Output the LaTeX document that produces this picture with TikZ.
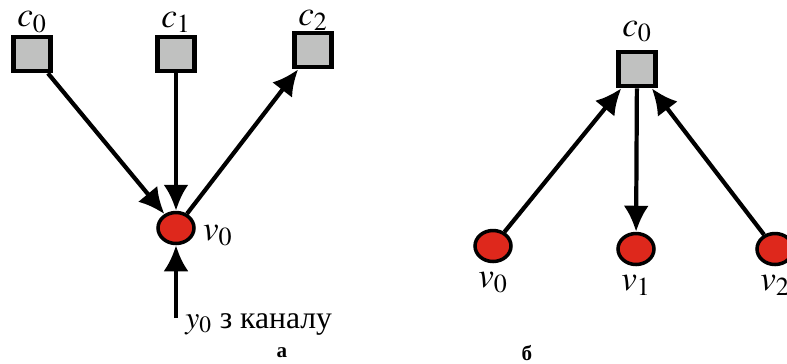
\documentclass[tikz,border=0pt]{standalone}
\usepackage{mathptmx}
\usepackage[no-math]{fontspec}
\setmainfont{Liberation Serif}
\usetikzlibrary{positioning,arrows.meta,shapes.geometric}
\definecolor{cellgray}{RGB}{192,193,192}
\definecolor{varred}{RGB}{222,40,28}

\begin{document}
\begin{tikzpicture}[x=0.02cm, y=-0.02cm,
  >={Latex[length=5.2mm, width=5mm]},
  cell/.style={rectangle, draw=black, line width=2.6pt, fill=cellgray,
               minimum width=0.74cm, minimum height=0.68cm, inner sep=0pt},
  var/.style={ellipse, draw=black, line width=2pt, fill=varred,
              minimum width=0.72cm, minimum height=0.62cm, inner sep=0pt},
  link/.style={line width=2.4pt, ->},
  lab/.style={font=\fontsize{20}{22}\selectfont, inner sep=0pt},
  panelcap/.style={font=\fontsize{12}{14}\selectfont\bfseries}
]
\useasboundingbox (0,0) rectangle (787,363);

% panel a
\node[cell] (a0) at (32,54) {};
\node[cell] (a1) at (176,54) {};
\node[cell] (a2) at (313,50) {};
\node[lab, above=1pt of a0] {$c_0$};
\node[lab, above=1pt of a1] {$c_1$};
\node[lab, above=0pt of a2] {$c_2$};
\node[var] (av0) at (176,228) {};
\node[lab, right=4pt of av0, yshift=-0.15cm] {$v_0$};
\coordinate (ain) at (176,318);
\node[lab, anchor=base west, font=\fontsize{18}{20}\selectfont] (src) at (185,328) {$y_0$ з каналу};
\draw[link] (a0) -- (av0);
\draw[link] (a1) -- (av0);
\draw[link] (av0) -- (a2);
\draw[link] (ain) -- (av0);
\node[panelcap] (capa) at (282,353) {а};

% panel b
\node[cell] (b0) at (637,69) {};
\node[lab, above=4pt of b0] {$c_0$};
\node[var] (bv0) at (493,246) {};
\node[var] (bv1) at (636,249) {};
\node[var] (bv2) at (775,249) {};
\node[lab, below=5pt of bv0] {$v_0$};
\node[lab, below=5pt of bv1] {$v_1$};
\node[lab, below=5pt of bv2] {$v_2$};
\draw[link] (bv0) -- (b0);
\draw[link] (b0) -- (bv1);
\draw[link] (bv2) -- (b0);
\node[panelcap] (capb) at (527,353) {б};
\end{tikzpicture}
\end{document}
